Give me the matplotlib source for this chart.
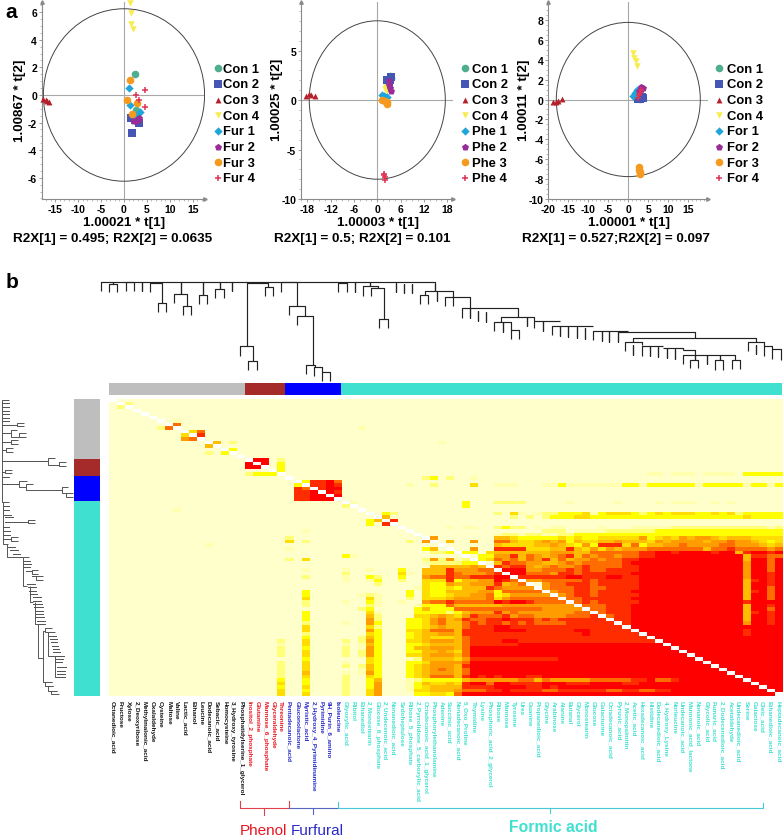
import numpy as np
import matplotlib
matplotlib.use("Agg")
import matplotlib.pyplot as plt
from matplotlib.colors import ListedColormap
from matplotlib.collections import LineCollection
from matplotlib.patches import Ellipse
from matplotlib.ticker import MultipleLocator

plt.rcParams['font.family'] = ['Liberation Sans', 'DejaVu Sans']
plt.rcParams['axes.unicode_minus'] = False
W, H = 784, 837

# ---------- score plots ----------
group_markers = ['o', 's', '^', 'v', 'D', 'p', 'o', '+']
group_colors = ['#4FAE90', '#4656B4', '#B5202A', '#F8EC4E', '#1FA5D9', '#9A2C98', '#F69A1F', '#E23355']
group_sizes = [30, 28, 18, 22, 18, 28, 30, 22]

a_names = ['Con 1', 'Con 2', 'Con 3', 'Con 4', 'Fur 1', 'Fur 2', 'Fur 3', 'Fur 4']
a_x = [[2.4, 2.55, 2.9, 3.1], [1.67, 3.35, 1.46, 2.4], [-17.6, -17.1, -16.75, -16.3], [1.38, 1.5, 1.5, 2.04],
       [1.0, 1.38, 3.57, 2.4], [3.28, 2.2, 2.6, 3.1], [1.38, 0.66, 2.84, 1.75], [4.6, 2.55, 3.35, 4.6]]
a_y = [[1.5, -1.09, -1.2, -1.25], [-2.78, -2.03, -1.69, -1.8], [-0.29, -0.34, -0.41, -0.51], [6.7, 5.94, 5.15, 4.78],
       [0.53, -0.75, -1.25, -1.5], [-1.67, -1.86, -1.9, -1.8], [1.09, -0.34, -0.6, -1.35], [0.34, 0.0, -0.36, -0.89]]

b_names = ['Con 1', 'Con 2', 'Con 3', 'Con 4', 'Phe 1', 'Phe 2', 'Phe 3', 'Phe 4']
b_x = [[3.2, 3.6, 2.7, 3.0], [2.5, 3.2, 3.6, 2.9], [-18.4, -17.5, -17.1, -16.0], [2.0, 2.2, 2.3, 2.5],
       [1.1, 1.6, 2.0, 2.4], [2.9, 3.0, 3.2, 3.6], [1.1, 1.9, 2.4, 2.5], [1.6, 1.8, 1.9, 1.9]]
b_y = [[2.4, 2.2, 2.1, 1.8], [2.0, 2.0, 2.3, 1.7], [0.44, 0.57, 0.54, 0.44], [1.1, 1.0, 1.3, 0.9],
       [0.55, 0.4, 0.35, 0.3], [1.9, 1.5, 1.2, 0.95], [0.0, -0.1, -0.25, -0.4], [-7.45, -7.55, -7.8, -8.05]]

c_names = ['Con 1', 'Con 2', 'Con 3', 'Con 4', 'For 1', 'For 2', 'For 3', 'For 4']
c_x = [[2.5, 3.0, 2.8, 3.2], [2.5, 3.3, 3.7, 2.9], [-18.7, -18.1, -17.5, -16.5], [1.25, 1.5, 1.85, 2.25],
       [1.25, 1.7, 2.1, 2.25], [3.1, 3.75, 3.1, 2.7], [2.6, 2.7, 2.8, 2.85], [2.3, 2.7, 2.9, 3.1]]
c_y = [[0.3, 0.3, 0.1, 0.5], [0.1, 0.25, 0.15, 0.05], [-0.25, -0.25, -0.15, 0.1], [4.65, 4.2, 3.9, 3.4],
       [0.35, 0.7, 0.8, 1.0], [1.3, 1.2, 1.05, 0.85], [-6.75, -7.1, -7.3, -7.5], [0.2, 0.5, 0.7, 1.0]]

# ---------- heat map module bars ----------
module_sizes = [17, 5, 7, 55]
module_colors = ['#BEBEBE', '#A52A2A', '#0000FF', '#40E0D0']
label_colors = ['#111111', '#E8141E', '#2A2AC8', '#40E0D0']

labels = ['Octanedioic_acid', 'Fructose', 'Xylose', '2_Deoxyribose', 'Methylmalonic_acid', 'Oxalaldehyde', 'Cysteine',
          'Maltose', 'Valine', 'Lactic_acid', 'Ethanol', 'Leucine', 'Dodecanoic_acid', 'Sebacic_acid', 'Homocysteine',
          '3_Hydroxy_tyrosine', 'Phosphatidylserine_1_glycerol',
          'Inositol_2_phosphate', 'Glutamine', 'Mannose_6_phosphate', 'Glyceraldehyde', 'Threonine',
          'Pentadecanoic_acid', 'Gluconolactone', 'Myristic_acid', '2_Hydroxy_4_Pyrimidinamine', 'Pyrimidine',
          '9H_Purin_6_amino', 'Isoleucine',
          'Glyoxylic_acid', 'Ribitol', 'Ethanediol', '2_Monostearin', 'Glucose_6_phosphate', '2_Undecenoic_acid',
          'Nonanedioic_acid', 'Sedoheptulose', 'Ribose_5_phosphate', '2_Pyrrolidone_5_carboxylic_acid',
          'Octadecanoic_acid_1_glycerol', 'Phosphorylethanolamine', 'Adenine', 'Succinic_acid', 'Nonadecanoic_acid',
          '5_Oxo_Proline', 'Thymidine', 'Lysine', 'Phosphoric_acid_2_glycerol', 'Ribose', 'Mannose', 'Tyrosine', 'Urea',
          'Guanine', 'Propanedioic_acid', 'Glycine', 'Arabinose', 'Alanine', 'Butanal', 'Glycerol', 'Monostearin',
          'Glucose', 'Galacturine', 'Octadecanoic_acid', 'Pyruvic_acid', '2_Monopalmitin', 'Acetic_acid',
          'Hexadecanoic_acid', 'Histidine', 'Dodecanedioic_acid', '4_Hydroxy_Lysine', 'Norleucine', 'Undecanoic_acid',
          'Mannonic_acid_lactone', 'Nonanoic_acid', 'Glycolic_acid', 'Fumaric_acid', '2_Dodecenedioic_acid',
          'Acetaldehyde', 'Undecanedioic_acid', 'Serine', 'Galactose', 'Oleic_acid', 'Ethanedioic_acid',
          'Heptadecanoic_acid']

# heat map levels, one string per row (0 pale ... 9 red), groups of ten columns
heat_rows = [
"0000000000 0000000000 0000000000 0000000000 0000000000 0000000000 0000000000 0000000000 0000",
"0020000000 0000000000 0000000000 0000000000 0000000000 0000000000 0000000000 0000000000 0000",
"0200000000 0000000000 0000000000 0000000000 0000000000 0000000000 0000000000 0000000000 0000",
"0000000000 0000000000 0000000000 0000000000 0000000000 0000000000 0000000000 0000000000 0000",
"0000000000 0000000000 0000000000 0000000000 0000000000 0000000000 0000000000 0000000000 0000",
"0000000000 0000000000 0000000000 0000000000 0000000000 0000000000 0000000000 0000000000 0000",
"0000000010 0000000000 0000000000 0000000000 0000000000 0000000000 0000000000 0000000000 0000",
"0000000070 0000000000 0000000000 0000000000 0000000000 0000000000 0000000000 0000000000 0000",
"0000002700 0000000000 0000000000 0100000000 0000000000 0000000000 0000000000 0000000000 0000",
"0000000000 4700000000 0000000000 0000000000 0000000000 0000000000 0000000000 0000000000 0000",
"0000000004 0800000000 0000000000 0000000000 0000000000 0000000000 0000000000 0000000000 0000",
"0000000006 7000000000 0000000000 0000000000 0000000000 0000000000 0000000000 0000000000 0000",
"0000000000 0005020000 0000000000 0000000000 0100000000 0000000000 0000000000 0000000000 0000",
"0000000000 0050000000 0000000000 0000000000 0000000000 0000000000 0000000000 0000000000 0000",
"0000000000 0000030000 0000000000 0000000000 0000000000 0000000000 0000000000 0000000000 0000",
"0000000000 0020300000 0000000000 0000000000 0000000000 0000000000 0000000000 0000000000 0000",
"0000000000 0000000000 0000000000 0000000000 0000000000 0000000000 0000000000 0000000000 0000",
"0000000000 0000000099 0200000000 0000000000 0000000000 0000000000 0000000000 0000000000 0000",
"0000000000 0000000909 0300000000 0000000000 0000000000 0000000000 0000000000 0000000000 0000",
"0000000000 0000000990 0300000000 0000000000 0000000000 0000000000 0000000000 0000000000 0000",
"0000000000 0000000000 0300000000 0000000000 0000000000 0000000000 0000000000 0000000000 0000",
"0000000000 0000000233 3000000000 0000000000 0000000000 0000000000 0000000110 1110111103 3333",
"0000000000 0000000000 0000000000 0000000002 3020010000 0000000000 0000000000 0000000000 0000",
"0000000000 0000000000 0000388970 0000000000 0000000000 0000000000 0000000000 0000000000 0000",
"0000000000 0000000000 0003088980 0000000100 2000040011 1000113111 1111331333 3331333331 3313",
"0000000000 0000000000 0008708990 0000000000 0000000000 0000000000 0000000000 0000000000 0000",
"0000000000 0000000000 0008890980 0000000000 0000000000 0000000000 0000000000 0000000000 0000",
"0000000000 0000000000 0008899090 0000000000 0000000000 0000000000 0000000000 0000000000 0000",
"0000000000 0000000000 0008899900 0000000000 0000000000 0000000000 0000000000 0000000000 0000",
"0000000000 0000000000 0000000000 1000000000 0000300022 2200000100 0001000010 1110010100 0000",
"0000000000 0000000000 0000000002 0000000000 0000300000 0000000000 0000000000 0000000000 0000",
"0000000010 0000000000 0000000000 0000000000 0000000000 0000000000 0000000000 0000000000 0000",
"0000000000 0000000000 0000000000 0000320000 0000000020 4101223334 1344432343 4443343423 3333",
"0000000000 0000000000 0000000000 0000500000 0000000000 2020233344 3333333333 3333333334 3333",
"0000000000 0000000000 0000000000 0035080000 0000000000 0000000000 0000000000 0000000000 0000",
"0000000000 0000000000 0000000000 0030800000 0000000000 0000000000 0000000000 0000000000 0000",
"0000000000 0000000000 0000000000 0000000000 0010110023 2201011000 0100011111 2222222222 2212",
"0000000000 0000000000 0000100000 0000000000 0000000000 0000222011 1122222233 3333333333 3333",
"0000000000 0000000000 0000000000 0000000000 0000000012 2122112233 3333333333 3333333333 3333",
"0000000000 0000000000 0020000000 0000000003 6000000055 4333334343 3444446345 4656654555 4444",
"0000000000 0000000000 0040200000 0000000206 0050060077 5445656354 4556555465 6666566766 5434",
"0000000000 0010000000 0000000000 0000000000 0000000054 4445565436 3888473556 6766667766 6545",
"0000000000 0000000000 0010000000 0000000003 5000060088 8844455854 6465666777 7777577877 7767",
"0000000000 0000000000 0000000000 0000000000 2233330455 5555566655 7777778899 8999989958 9989",
"0000000000 0000000000 0000000003 1000000000 0000003366 8576567857 6776778899 9999999995 8877",
"0000000000 0000000000 0020400000 0000000002 6261203476 7576857566 7677889999 9999999995 9979",
"0000000000 0000000000 0000000000 0000000001 2222332058 7766556767 7777899999 9999999996 9979",
"0000000000 0000000000 0000000000 0000000000 5555565087 8865676678 7777889999 9999999996 9979",
"0000000000 0000000000 0000100001 0010003005 5586667709 9966777878 7788889999 9999999996 9979",
"0000000000 0000000000 0000000002 0000004105 5587666780 9977768878 8888899999 9999999996 9989",
"0000000000 0000000000 0000200001 0032003006 7787788899 0888888998 8899889999 9999999996 9989",
"0000000000 0000000000 0000000001 0013002004 4483556698 7066777778 7888889999 9999999995 8989",
"0000000000 0000000000 0000000000 0002000004 3365566685 6760677888 7888889999 9999999995 9989",
"0000000000 0000000000 0000000000 0000000014 3343555876 6660677788 7788889999 9999999995 9979",
"0000000000 0000000000 0000300000 0000000304 3355556637 7777067788 7888899999 9999999995 8979",
"0000000000 0000000000 0000300000 0121000304 3345566734 6666606788 7888889999 9999999995 9979",
"0000000000 0000000000 0000400000 0041000204 4456666746 7777770778 8888899999 9999999995 9979",
"0000000000 0000000000 0000200001 0031001006 7787777798 9987777078 7888889999 9999999998 9999",
"0000000000 0000000000 0000200000 0021000013 3375555556 6666666607 7788899999 9999999995 9989",
"0000000000 0000000000 0000000000 0230000035 3337777777 7777666660 7788899999 9999999995 9979",
"0000000000 0000000000 0000300000 0041000033 3323566686 7666666677 0788899999 9999999995 8989",
"0000000000 0000000000 0000300000 0052000044 5654687778 6776666777 8078899999 9999999995 9989",
"0000000000 0000000000 0000300000 0062000334 6756877889 8887878888 8808899999 9999999995 9989",
"0000000000 0000000000 0000200001 0063000334 6755787887 8787777888 8880899999 9999999996 9989",
"0000000000 0000000000 0000400000 0042000334 5655788899 8888888888 8888099999 9999999999 9999",
"0000000000 0000000000 0000400000 0063000445 7775888899 9988888899 8888809999 9999999998 9999",
"0000000000 0000000000 0000200000 0043000345 5665888888 8888888889 8888880999 9999999998 9999",
"0000000000 0000000000 0000300000 0253000345 4445788888 8888888888 8888888099 9999999999 9999",
"0000000000 0000000000 0200400002 0263000445 6665788889 9888888888 8888888809 9999999999 9999",
"0000000000 0000000000 0100400001 0153000334 5555788888 8999999999 9999999990 9999999999 9999",
"0000000000 0000000000 0200300002 0163000355 6665799999 9999999999 9999999999 0999999999 9999",
"0000000000 0000000000 0200400002 0263000335 5654799999 9999999999 9999999999 9099999999 9999",
"0000000000 0000000000 0200400002 0263000445 6665799999 9999999999 9999999999 9909999999 9999",
"0000000000 0000000000 0000300000 0043000125 5554688888 8888889999 9999999999 9990999999 9999",
"0000000000 0000000000 0200400001 0043000334 6666799999 9999999999 9999999999 9999099999 9999",
"0000000000 0000000000 0200400002 0253000345 6665899999 9999999999 9999999999 9999909999 9999",
"0000000000 0000000000 0200400000 0153000345 6765799999 9999999999 9999999999 9999990999 9999",
"0000000000 0000000000 0200500001 0163000345 6665799999 9999999999 9999999999 9999999099 9999",
"0000000000 0000000000 0200400002 0043000345 7775898989 9988999999 9999999999 9999999909 9999",
"0000000000 0000000000 0300300002 0035000123 3333566666 6775766666 7777788977 8999999990 9999",
"0000000000 0000000000 0400300002 0036000135 4454899799 8888999888 9999889999 9999999999 0999",
"0000000000 0000000000 0300400002 0036000134 5555888899 9988989999 9999999999 9999999999 9099",
"0000000000 0000000000 0400300002 0046000144 5556777889 8888778888 8877887788 9999999999 9909",
"0000000000 0000000000 0400400002 0046000033 4437999999 9999999999 9999999999 9999999999 9990",
]
heat_palette = ['#FFFFCC', '#FFFFAE', '#FFFF78', '#FFFF00', '#FFDD00', '#FFBC00', '#FF9C00', '#FF6C00', '#FF2C00', '#FF0000']

# ---------- dendrograms: (left, right, top, left end, right end) ----------
top_links = [
    (302, 1305, 38, 66, 45), (340, 340, 38, 44, 44), (327, 352, 44, 70, 70), (377, 402, 38, 66, 66), (425, 425, 38, 66, 66),
    (468, 468, 38, 42, 42), (450, 487, 42, 70, 102), (474, 498, 102, 130, 130), (542, 542, 38, 76, 76),
    (523, 562, 76, 103, 112), (548, 573, 112, 139, 139), (610, 610, 38, 78, 78), (597, 622, 78, 105, 105),
    (660, 660, 38, 60, 60), (646, 671, 60, 87, 87), (696, 696, 38, 65, 65), (772, 772, 38, 43, 43),
    (740, 805, 43, 232, 53), (720, 758, 232, 260, 276), (745, 770, 276, 303, 303), (794, 819, 53, 80, 80),
    (843, 892, 40, 68, 112), (868, 916, 112, 139, 140), (892, 940, 140, 167, 287), (917, 945, 287, 314, 295),
    (942, 967, 295, 322, 308), (967, 991, 308, 335, 335), (1015, 1040, 42, 70, 70), (1065, 1065, 40, 68, 68),
    (1110, 1110, 40, 52, 52), (1088, 1135, 52, 80, 58), (1113, 1151, 58, 80, 150), (1138, 1163, 150, 177, 177),
    (1187, 1187, 42, 70, 70), (1212, 1212, 44, 72, 72), (1237, 1237, 44, 72, 72), (1305, 1305, 45, 65, 65),
    (1275, 1360, 65, 77, 112), (1260, 1285, 77, 105, 105), (1310, 1310, 68, 95, 95), (1335, 1410, 83, 112, 118),
    (1385, 1555, 118, 146, 143), (1410, 1410, 118, 148, 148), (1435, 1435, 125, 155, 155), (1458, 1458, 130, 160, 160),
    (1503, 1603, 143, 160, 177), (1483, 1533, 160, 187, 182), (1508, 1508, 160, 190, 190), (1533, 1557, 182, 210, 210),
    (1580, 1580, 143, 172, 172), (1603, 1680, 155, 155, 155), (1630, 1630, 155, 185, 185), (1655, 1780, 170, 197, 170),
    (1680, 1680, 170, 200, 200), (1705, 1705, 172, 203, 203), (1730, 1730, 175, 207, 207), (1755, 1755, 178, 210, 210),
    (1780, 1885, 185, 213, 185), (1805, 1805, 185, 215, 215), (1828, 1828, 186, 218, 218), (1853, 1853, 188, 220, 220),
    (1853, 2085, 190, 190, 207), (1900, 2268, 207, 218, 218), (1875, 1925, 218, 245, 228), (1900, 1900, 228, 257, 257),
    (1925, 1990, 230, 260, 230), (1950, 1950, 232, 262, 262), (1975, 1975, 234, 264, 264), (1990, 2050, 238, 238, 243),
    (2000, 2000, 238, 268, 268), (2025, 2025, 240, 270, 270), (2050, 2085, 243, 243, 258), (2048, 2205, 258, 285, 272),
    (2070, 2095, 272, 298, 298), (2085, 2085, 258, 272, 272), (2120, 2120, 258, 285, 285), (2145, 2170, 272, 302, 302),
    (2195, 2220, 272, 300, 300), (2160, 2160, 262, 272, 272), (2243, 2292, 218, 245, 232), (2268, 2268, 228, 255, 255),
    (2292, 2317, 232, 262, 240), (2317, 2343, 240, 270, 272),
]
# left tree: (upper, lower, stem, upper end, lower end)
left_links = [
    (33, 340, 5, 28, 8), (43, 43, 5, 28, 28), (54, 54, 5, 28, 28), (65, 65, 5, 28, 28), (75, 75, 5, 28, 28),
    (86, 86, 5, 28, 28), (97, 97, 5, 28, 28), (107, 107, 5, 52, 52), (101, 112, 52, 72, 72), (133, 133, 5, 33, 33),
    (124, 143, 33, 52, 58), (132, 145, 58, 78, 78), (160, 160, 5, 33, 33), (153, 165, 33, 55, 55), (183, 183, 5, 18, 18),
    (178, 188, 18, 40, 38), (215, 215, 5, 145, 145), (208, 227, 145, 165, 178), (218, 232, 178, 198, 198),
    (248, 248, 5, 15, 15), (242, 253, 15, 37, 37), (265, 265, 5, 28, 28), (285, 285, 5, 58, 58), (275, 295, 58, 80, 78),
    (285, 303, 78, 100, 185), (295, 313, 185, 205, 198), (313, 325, 198, 220, 220), (340, 465, 8, 28, 22),
    (352, 352, 8, 28, 28), (362, 362, 8, 26, 26), (378, 378, 10, 32, 32), (385, 385, 14, 38, 38), (398, 398, 14, 85, 85),
    (392, 403, 85, 105, 105), (415, 415, 10, 28, 28), (425, 425, 10, 30, 30), (437, 437, 10, 30, 30), (450, 450, 10, 33, 33),
    (445, 457, 33, 53, 53), (465, 505, 22, 25, 40), (475, 475, 25, 45, 45), (483, 483, 30, 55, 55), (495, 495, 38, 60, 60),
    (505, 505, 40, 65, 65), (505, 590, 68, 88, 80), (515, 515, 68, 90, 90), (525, 525, 70, 92, 92), (535, 535, 72, 90, 90),
    (545, 545, 78, 93, 93), (543, 555, 95, 115, 115), (560, 560, 95, 108, 108), (562, 573, 108, 128, 128),
    (585, 585, 80, 105, 105), (595, 595, 83, 108, 108), (605, 605, 88, 108, 108), (615, 615, 90, 110, 110),
    (590, 640, 90, 90, 100), (625, 625, 98, 122, 122), (635, 635, 100, 122, 122), (645, 645, 100, 125, 125),
    (640, 705, 105, 105, 115), (655, 655, 102, 128, 128), (665, 665, 105, 128, 128), (675, 675, 108, 130, 130),
    (685, 685, 108, 132, 132), (695, 695, 110, 135, 135), (705, 705, 113, 135, 135), (705, 808, 115, 115, 128),
    (725, 880, 128, 135, 155), (718, 730, 135, 155, 145), (730, 800, 145, 165, 165), (740, 740, 147, 167, 167),
    (750, 750, 150, 170, 170), (760, 760, 152, 172, 172), (770, 770, 155, 175, 175), (780, 780, 158, 178, 178),
    (790, 790, 160, 180, 180), (800, 800, 165, 192, 192), (810, 810, 165, 190, 190), (820, 820, 165, 185, 185),
    (800, 865, 165, 165, 175), (835, 835, 170, 197, 197), (845, 845, 170, 195, 195), (855, 855, 172, 195, 195),
    (865, 865, 175, 195, 195), (880, 890, 135, 155, 160), (890, 905, 145, 160, 172), (905, 915, 152, 172, 176),
]

bracket_lines = [
    ('#E0404A', [(240, 802), (240, 809), (289, 809), (289, 802)], (264, 809, 816)),
    ('#5566BE', [(289, 809), (338, 809)], (313, 809, 815)),
    ('#48C8D8', [(338, 803), (338, 809), (763, 809), (763, 804)], (550, 809, 814)),
]

fig = plt.figure(figsize=(W / 100, H / 100), dpi=100)


def px_axes(left, top, right, bottom, **kw):
    return fig.add_axes([left / W, 1 - bottom / H, (right - left) / W, (bottom - top) / H], **kw)


def score_panel(box, xlim, ylim, radii, xstep, ystep, xts, yts, xs, ys, names, xlabel, ylabel, footer,
                lab_x, lab_y, foot_x, ylab_x, leg_x, hpad):
    ax = px_axes(*box)
    ax.set_xlim(*xlim)
    ax.set_ylim(*ylim)
    ax.patch.set_alpha(0)
    for s in ('top', 'right'):
        ax.spines[s].set_visible(False)
    for s in ('left', 'bottom'):
        ax.spines[s].set_color('#8a8a8a')
        ax.spines[s].set_linewidth(0.8)
    ax.axhline(0, color='#a8a8a8', lw=0.8, zorder=1)
    ax.axvline(0, color='#a8a8a8', lw=0.8, zorder=1)
    ax.add_patch(Ellipse((0, 0), 2 * radii[0], 2 * radii[1], fill=False, ec='#444444', lw=0.7, zorder=2))
    ax.plot(1, 0, '>', transform=ax.transAxes, clip_on=False, color='#8a8a8a', ms=2.5)
    ax.plot(0, 1, '^', transform=ax.transAxes, clip_on=False, color='#8a8a8a', ms=2.5)
    handles = []
    for x, y, m, c, s, n in zip(xs, ys, group_markers, group_colors, group_sizes, names):
        lw = 1.1 if m == '+' else 0
        h = ax.scatter(x, y, marker=m, c=c, s=s, linewidths=lw, zorder=3, label=n, clip_on=False)
        handles.append(h)
    ax.set_xticks(xts)
    ax.set_yticks(yts)
    ax.xaxis.set_minor_locator(MultipleLocator(xstep))
    ax.yaxis.set_minor_locator(MultipleLocator(ystep))
    ax.tick_params(which='major', length=2.5, width=0.6, color='#8a8a8a', labelsize=7.5, pad=0.8)
    ax.tick_params(which='minor', length=1.3, width=0.4, color='#8a8a8a')
    for t in ax.get_xticklabels() + ax.get_yticklabels():
        t.set_fontweight('bold')
    ax.set_xlabel(xlabel, fontsize=9.7, fontweight='bold', va='center')
    ax.xaxis.set_label_coords(lab_x / W, 1 - 222.7 / H, transform=fig.transFigure)
    ax.set_ylabel(ylabel, fontsize=9.7, fontweight='bold', va='center')
    ax.yaxis.set_label_coords(ylab_x / W, 1 - lab_y / H, transform=fig.transFigure)
    fig.text(foot_x / W, 1 - 238.7 / H, footer, fontsize=9.7, fontweight='bold', ha='center', va='center')
    ax.legend(handles=handles, loc='upper left', bbox_to_anchor=(leg_x / W, 1 - 63.5 / H),
              bbox_transform=fig.transFigure, frameon=False, prop={'size': 9.4, 'weight': 'bold'},
              borderpad=0, borderaxespad=0, handlelength=0.4, handletextpad=hpad, labelspacing=0.27,
              scatterpoints=1)
    return ax


score_panel((41.7, 3, 205, 200), (-17.97, 17.69), (-7.54, 6.74), (17.6, 6.25), 1, 0.5,
            [-15, -10, -5, 0, 5, 10, 15], [-6, -4, -2, 0, 2, 4, 6], a_x, a_y, a_names,
            '1.00021 * t[1]', '1.00867 * t[2]', 'R2X[1] = 0.495; R2X[2] = 0.0635', 124, 100.8, 112.5, 20.5, 215, 0.2)
score_panel((300.7, 3, 452.7, 200), (-19.7, 19.4), (-10, 9.9), (17.5, 8.0), 1.5, 1,
            [-18, -12, -6, 0, 6, 12, 18], [-10, -5, 0, 5], b_x, b_y, b_names,
            '1.00003 * t[1]', '1.00025 * t[2]', 'R2X[1] = 0.5; R2X[2] = 0.101', 377.7, 100, 362.5, 276.7, 462.4, 0.34)
score_panel((548.3, 3, 707.7, 200), (-20, 19.85), (-10, 9.8), (18, 7.75), 1, 0.5,
            [-20, -15, -10, -5, 0, 5, 10, 15], [-10, -8, -6, -4, -2, 0, 2, 4, 6, 8], c_x, c_y, c_names,
            '1.00001 * t[1]', '1.00011 * t[2]', 'R2X[1] = 0.527;R2X[2] = 0.097', 628.8, 100, 615.8, 524, 716, 0.42)

# ---------- heat map ----------
matrix = np.array([[int(ch) for ch in row.replace(' ', '')] for row in heat_rows], dtype=float)
assert matrix.shape == (84, 84), matrix.shape
np.fill_diagonal(matrix, np.nan)
cmap = ListedColormap(heat_palette)
cmap.set_bad('white')
hm = px_axes(108.5, 399.5, 782, 697)
hm.imshow(matrix, cmap=cmap, vmin=-0.5, vmax=9.5, aspect='auto', interpolation='nearest')
for s in hm.spines.values():
    s.set_visible(False)
hm.set_yticks([])
hm.set_xticks(np.arange(84))
hm.set_xticklabels(labels, rotation=-90, fontsize=4.55, fontweight='bold', ha='center', va='top')
hm.tick_params(axis='x', length=0, pad=3)
tick_cols = np.repeat(label_colors, module_sizes)
for t, c in zip(hm.get_xticklabels(), tick_cols):
    t.set_color(c)

# module bars
top_bar = px_axes(108.5, 384, 782, 396)
left_bar = px_axes(74, 399.5, 100, 697)
start = 0
for n, c in zip(module_sizes, module_colors):
    top_bar.barh(0, n, left=start, height=1, color=c, linewidth=0)
    left_bar.bar(0, n, bottom=start, width=1, color=c, linewidth=0)
    start += n
top_bar.set_xlim(0, 84)
top_bar.set_ylim(-0.5, 0.5)
left_bar.set_ylim(84, 0)
left_bar.set_xlim(-0.5, 0.5)
top_bar.axis('off')
left_bar.axis('off')

# dendrograms
tree_top = px_axes(0, 270, 784, 400)
tree_top.set_xlim(0, 2352)
tree_top.set_ylim(390, 0)
tree_top.axis('off')
tree_top.patch.set_alpha(0)
segs = [[(xl, yl), (xl, yt), (xr, yt), (xr, yr)] for xl, xr, yt, yl, yr in top_links]
tree_top.add_collection(LineCollection(segs, colors='#222222', linewidths=0.85))

tree_left = px_axes(0, 390, 108, 700)
tree_left.set_xlim(0, 324)
tree_left.set_ylim(930, 0)
tree_left.axis('off')
tree_left.patch.set_alpha(0)
segs = [[(e1, y1), (x, y1), (x, y2), (e2, y2)] for y1, y2, x, e1, e2 in left_links]
tree_left.add_collection(LineCollection(segs, colors='#555555', linewidths=0.7))

# brackets and text overlay
ov = px_axes(0, 0, W, H)
ov.set_xlim(0, W)
ov.set_ylim(H, 0)
ov.axis('off')
ov.patch.set_alpha(0)
for col, pts, tick in bracket_lines:
    xs_, ys_ = zip(*pts)
    ov.plot(xs_, ys_, color=col, lw=0.8)
    ov.plot([tick[0], tick[0]], [tick[1], tick[2]], color=col, lw=0.8)
ov.text(263, 831, 'Phenol', color='#E8141E', fontsize=11, ha='center', va='center')
ov.text(317, 831, 'Furfural', color='#2A2AC8', fontsize=11, ha='center', va='center')
ov.text(553, 828, 'Formic acid', color='#40E0D0', fontsize=11.3, fontweight='bold', ha='center', va='center')
ov.text(11, 12, 'a', fontsize=15, fontweight='bold', ha='center', va='center')
ov.text(12, 282, 'b', fontsize=15, fontweight='bold', ha='center', va='center')

fig.savefig('out.png', dpi=100)
